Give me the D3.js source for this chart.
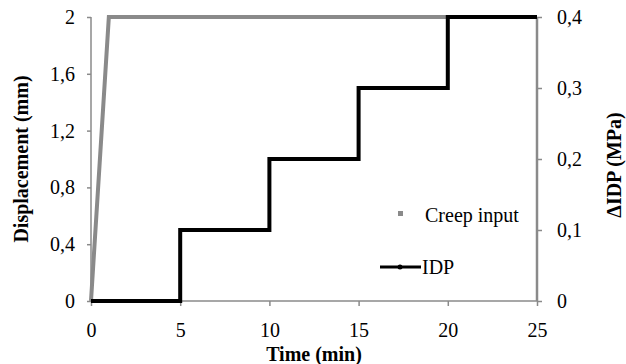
<!DOCTYPE html>
<html>
<head>
<meta charset="utf-8">
<script src="https://cdn.jsdelivr.net/npm/d3@7"></script>
<style>
  body { margin: 0; background: #fff; }
</style>
</head>
<body>
<svg id="chart"></svg>
<script>
// Creep input (left axis, mm)
const creepTime = [0, 1, 25];
const creepDisp = [0, 2, 2];

// IDP steps (right axis, MPa)
const idpTime = [0, 5, 5, 10, 10, 15, 15, 20, 20, 25];
const idpValue = [0, 0, 0.1, 0.1, 0.2, 0.2, 0.3, 0.3, 0.4, 0.4];

const xTicks = [0, 5, 10, 15, 20, 25];
const leftTicks = [0, 0.4, 0.8, 1.2, 1.6, 2];
const rightTicks = [0, 0.1, 0.2, 0.3, 0.4];

const W = 626, H = 364;
const margin = { top: 17, right: 89, bottom: 63, left: 91 };
const GRAY = '#8a8a8a';
const FONT = 'Liberation Serif';

const svg = d3.select('#chart').attr('width', W).attr('height', H);

const x = d3.scaleLinear().domain([0, 25]).range([margin.left, W - margin.right]);
const yL = d3.scaleLinear().domain([0, 2]).range([H - margin.bottom, margin.top]);
const yR = d3.scaleLinear().domain([0, 0.4]).range([H - margin.bottom, margin.top]);

const comma = d => String(d).replace('.', ',');

// serif text on every label, set on the element itself
function serif(sel, weight) {
  sel.attr('font-family', FONT)
    .attr('font-size', 20)
    .attr('font-weight', weight || 'normal')
    .attr('fill', '#000');
}

// axes
const xAxisG = svg.append('g')
  .attr('transform', `translate(0,${H - margin.bottom})`)
  .call(d3.axisBottom(x).tickValues(xTicks).tickSize(5).tickPadding(17).tickFormat(d3.format('d')));

const yAxisG = svg.append('g')
  .attr('transform', `translate(${margin.left},0)`)
  .call(d3.axisLeft(yL).tickValues(leftTicks).tickSize(4).tickPadding(12).tickFormat(comma));

const yRAxisG = svg.append('g')
  .attr('transform', `translate(${W - margin.right},0)`)
  .call(d3.axisRight(yR).tickValues(rightTicks).tickSize(5).tickPadding(15).tickFormat(comma));

[xAxisG, yAxisG, yRAxisG].forEach(g => {
  g.attr('font-family', null).attr('font-size', null);
  g.select('.domain').attr('stroke', GRAY).attr('stroke-width', 1.5);
  g.selectAll('.tick line').attr('stroke', GRAY).attr('stroke-width', 1.5);
  g.selectAll('.tick text').call(serif);
});
yRAxisG.select('.domain').attr('stroke-width', 2.5);
// no outer ticks on the domain paths
xAxisG.select('.domain').attr('d', `M${margin.left},0H${W - margin.right}`);
yAxisG.select('.domain').attr('d', `M0,${H - margin.bottom}V${margin.top}`);
yRAxisG.select('.domain').attr('d', `M0,${H - margin.bottom}V${margin.top}`);

// series
const creepLine = d3.line().x(i => x(creepTime[i])).y(i => yL(creepDisp[i]));
svg.append('path')
  .attr('d', creepLine(d3.range(creepTime.length)))
  .attr('fill', 'none')
  .attr('stroke', GRAY)
  .attr('stroke-width', 4);

const idpLine = d3.line().x(i => x(idpTime[i])).y(i => yR(idpValue[i]));
svg.append('path')
  .attr('d', idpLine(d3.range(idpTime.length)))
  .attr('fill', 'none')
  .attr('stroke', '#000')
  .attr('stroke-width', 4);

// legend
const leg = svg.append('g');
leg.append('rect')
  .attr('x', 398).attr('y', 211).attr('width', 5).attr('height', 5)
  .attr('fill', GRAY);
leg.append('text')
  .attr('x', 425).attr('y', 222)
  .call(serif)
  .text('Creep input');
leg.append('line')
  .attr('x1', 380).attr('x2', 421).attr('y1', 267).attr('y2', 267)
  .attr('stroke', '#000').attr('stroke-width', 3);
leg.append('circle')
  .attr('cx', 400).attr('cy', 267).attr('r', 2.5).attr('fill', '#000');
leg.append('text')
  .attr('x', 422).attr('y', 274)
  .call(serif)
  .text('IDP');

// axis titles
svg.append('text')
  .attr('x', (margin.left + W - margin.right) / 2).attr('y', 361)
  .attr('text-anchor', 'middle')
  .call(serif, 'bold')
  .text('Time (min)');

svg.append('text')
  .attr('transform', `translate(28,${(margin.top + H - margin.bottom) / 2}) rotate(-90)`)
  .attr('text-anchor', 'middle')
  .call(serif, 'bold')
  .text('Displacement (mm)');

svg.append('text')
  .attr('transform', `translate(621,165) rotate(-90)`)
  .attr('text-anchor', 'middle')
  .call(serif, 'bold')
  .text('ΔIDP (MPa)');
</script>
</body>
</html>
